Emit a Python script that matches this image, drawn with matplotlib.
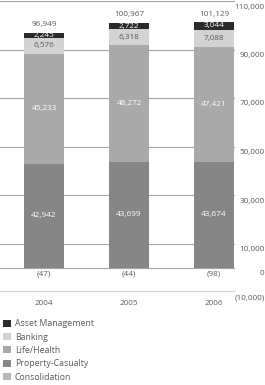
import matplotlib.pyplot as plt
from matplotlib.patches import Patch
from matplotlib.transforms import offset_copy

plt.rcParams['font.family'] = ['Open Sans', 'DejaVu Sans']

years = ["2004", "2005", "2006"]
property_casualty = [42942, 43699, 43674]
life_health = [45233, 48272, 47421]
banking = [6576, 6318, 7088]
asset_management = [2245, 2722, 3044]
consolidation = [-47, -44, -98]
totals = [96949, 100967, 101129]

tick_values = [110000, 90000, 70000, 50000, 30000, 10000, 0, -10000]
tick_labels = ["110,000", "90,000", "70,000", "50,000", "30,000", "10,000", "0", "(10,000)"]

series_names = ["Asset Management", "Banking", "Life/Health", "Property-Casualty", "Consolidation"]
colors = {
    "Asset Management": "#2b2b2b",
    "Banking": "#d3d3d3",
    "Life/Health": "#a9a9a9",
    "Property-Casualty": "#868686",
    "Consolidation": "#b6b6b6",
}
text_col = "#5a5a5a"

fig = plt.figure(figsize=(2.65, 3.85), dpi=100)
ax = fig.add_axes([0, 1 - 292 / 385, 235 / 265, 291 / 385])
ax.set_ylim(-10000, 110000)
ax.set_xlim(-0.518, 2.247)
for s in ax.spines.values():
    s.set_visible(False)
ax.set_xticks([])
ax.set_yticks([])

# grid lines
for v in tick_values:
    if v == -10000:
        ax.axhline(v, color="#d0d0d0", lw=2.2, zorder=1)
    else:
        ax.axhline(v, color="#a3a3a3", lw=0.8, zorder=1)

x = list(range(len(years)))
w = 0.47
ax.bar(x, consolidation, w, color=colors["Consolidation"], zorder=2)
ax.bar(x, property_casualty, w, color=colors["Property-Casualty"], zorder=2)
b1 = [p for p in property_casualty]
ax.bar(x, life_health, w, bottom=b1, color=colors["Life/Health"], zorder=2)
b2 = [p + l for p, l in zip(property_casualty, life_health)]
ax.bar(x, banking, w, bottom=b2, color=colors["Banking"], zorder=2)
b3 = [a + b for a, b in zip(b2, banking)]
ax.bar(x, asset_management, w, bottom=b3, color=colors["Asset Management"], zorder=2)

fs = 5.9
for i in x:
    ax.text(i, property_casualty[i] / 2, f"{property_casualty[i]:,}", ha="center", va="center",
            fontsize=fs, color="white", zorder=3)
    ax.text(i, b1[i] + life_health[i] / 2, f"{life_health[i]:,}", ha="center", va="center",
            fontsize=fs, color="white", zorder=3)
    ax.text(i, b2[i] + banking[i] / 2, f"{banking[i]:,}", ha="center", va="center",
            fontsize=fs, color=text_col, zorder=3)
    ax.text(i, b3[i] + asset_management[i] / 2, f"{asset_management[i]:,}", ha="center", va="center",
            fontsize=fs, color="white", zorder=3)
    ax.text(i, totals[i] + 2000, f"{totals[i]:,}", ha="center", va="bottom",
            fontsize=fs, color=text_col, zorder=3)
    ax.text(i, -1000, f"({-consolidation[i]})", ha="center", va="top",
            fontsize=fs, color=text_col, zorder=3)
    ax.text(i, -10000 - 3300, years[i], ha="center", va="top", fontsize=fs, color=text_col,
            clip_on=False)

# value axis labels on the right, just under each line
trans = offset_copy(ax.get_yaxis_transform(), fig=fig, x=0, y=-2.5, units="dots")
for v, lab in zip(tick_values, tick_labels):
    ax.text(1.126, v, lab, transform=trans, ha="right", va="top", fontsize=fs,
            color=text_col, clip_on=False)

handles = [Patch(facecolor=colors[n], edgecolor="none") for n in series_names]
fig.legend(handles, series_names, loc="upper left", bbox_to_anchor=(-0.01, 1 - 313 / 385),
           frameon=False, fontsize=6.3, handlelength=0.85, handleheight=0.85,
           handletextpad=0.45, labelspacing=0.5, borderpad=0.2, labelcolor=text_col)

fig.savefig("out.png", dpi=100)
